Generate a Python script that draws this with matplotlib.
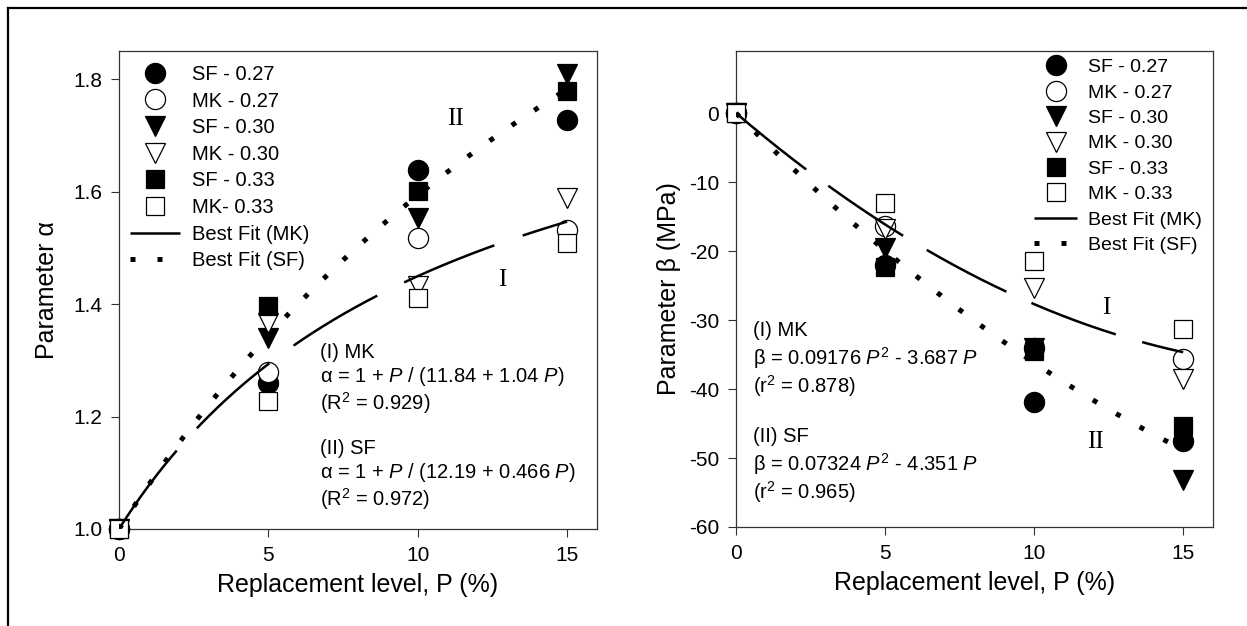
import numpy as np
import matplotlib
matplotlib.use("Agg")
import matplotlib.pyplot as plt
from matplotlib.lines import Line2D

plt.rcParams['font.family'] = ['Liberation Sans', 'DejaVu Sans']
plt.rcParams['mathtext.fontset'] = 'custom'
plt.rcParams['mathtext.rm'] = 'Liberation Sans'
plt.rcParams['mathtext.it'] = 'Liberation Sans:italic'
plt.rcParams['axes.unicode_minus'] = False

# replacement level (%)
P = [0, 5, 10, 15]

# parameter alpha
alpha = {
    'SF - 0.27': [1.0, 1.259, 1.638, 1.728],
    'MK - 0.27': [1.0, 1.279, 1.518, 1.532],
    'SF - 0.30': [1.0, 1.340, 1.553, 1.809],
    'MK - 0.30': [1.0, 1.367, 1.433, 1.589],
    'SF - 0.33': [1.0, 1.397, 1.601, 1.778],
    'MK- 0.33': [1.0, 1.227, 1.411, 1.508],
}
# parameter beta (MPa)
beta = {
    'SF - 0.27': [0.0, -22.0, -41.9, -47.5],
    'MK - 0.27': [0.0, -16.4, -34.0, -35.6],
    'SF - 0.30': [0.0, -19.6, -34.0, -53.2],
    'MK - 0.30': [0.0, -16.8, -25.4, -38.5],
    'SF - 0.33': [0.0, -22.3, -34.5, -45.4],
    'MK - 0.33': [0.0, -13.0, -21.4, -31.3],
}

# fit coefficients printed on the chart
alpha_mk = (11.84, 1.04)
alpha_sf = (12.19, 0.466)
beta_mk = (0.09176, -3.687)
beta_sf = (0.07324, -4.351)

# marker styles in legend order: (marker, filled, size)
styles = [('o', True, 14.5), ('o', False, 14.5), ('v', True, 14),
          ('v', False, 14), ('s', True, 12.5), ('s', False, 12.5)]

pf = np.linspace(0, 15, 300)
sf_kw = dict(color='black', lw=3.6, dashes=(1.0, 4.4), dash_capstyle='butt',
             zorder=5)


def mk_kw(dash):
    return dict(color='black', lw=1.8, dashes=dash, solid_capstyle='butt',
                dash_capstyle='butt', zorder=5)


fig = plt.figure(figsize=(12.47, 6.26), dpi=100)
ax1 = fig.add_axes([119/1247, 1-529/626, 478/1247, 478/626])
ax2 = fig.add_axes([736/1247, 1-527/626, 477/1247, 476/626])

# outer frame (top and left edges)
fig.add_artist(Line2D([8/1247, 8/1247], [0, 1-8/626], color='black', lw=1.6,
                      transform=fig.transFigure))
fig.add_artist(Line2D([8/1247, 1], [1-8/626, 1-8/626], color='black', lw=1.6,
                      transform=fig.transFigure))


def draw(ax, data):
    handles = []
    for (name, vals), (m, filled, ms) in zip(data.items(), styles):
        h, = ax.plot(P, vals, linestyle='none', marker=m, ms=ms,
                     mfc='black' if filled else 'white', mec='black',
                     mew=0.9, label=name, zorder=3, clip_on=False)
        handles.append(h)
    return handles


h1 = draw(ax1, alpha)
l1, = ax1.plot(pf, 1 + pf / (alpha_mk[0] + alpha_mk[1] * pf), label='Best Fit (MK)',
               **mk_kw((39, 12)))
l2, = ax1.plot(pf, 1 + pf / (alpha_sf[0] + alpha_sf[1] * pf), label='Best Fit (SF)', **sf_kw)

h2 = draw(ax2, beta)
l3, = ax2.plot(pf, beta_mk[0] * pf**2 + beta_mk[1] * pf, label='Best Fit (MK)',
               **mk_kw((36, 11)))
l4, = ax2.plot(pf, beta_sf[0] * pf**2 + beta_sf[1] * pf, label='Best Fit (SF)', **sf_kw)

for ax in (ax1, ax2):
    ax.set_xlim(0, 16)
    ax.set_xticks([0, 5, 10, 15])
    ax.tick_params(labelsize=15, length=6, width=0.8, color='#333333', pad=6)
    for s in ax.spines.values():
        s.set_linewidth(0.9)
        s.set_color('#333333')
    ax.set_xlabel('Replacement level, P (%)', fontsize=18, labelpad=6)

ax1.set_ylim(1.0, 1.85)
ax1.set_yticks([1.0, 1.2, 1.4, 1.6, 1.8])
ax1.set_ylabel('Parameter α', fontsize=18, labelpad=10)
ax2.set_ylim(-60, 9)
ax2.set_yticks([-60, -50, -40, -30, -20, -10, 0])
ax2.set_ylabel('Parameter β (MPa)', fontsize=18, labelpad=6)

ax1.legend(handles=h1 + [l1, l2], loc='upper left', bbox_to_anchor=(0.023, 0.971),
           frameon=False, fontsize=14.5, handlelength=2.5, handletextpad=0.6,
           labelspacing=0.38, borderpad=0, borderaxespad=0)
ax2.legend(handles=h2 + [l3, l4], loc='upper left', bbox_to_anchor=(0.625, 0.984),
           frameon=False, fontsize=14, handlelength=2.2, handletextpad=0.55,
           labelspacing=0.40, borderpad=0, borderaxespad=0)

txt1 = ['(I) MK', 'α = 1 + $P$ / (11.84 + 1.04 $P$)', '(R$^2$ = 0.929)',
        '(II) SF', 'α = 1 + $P$ / (12.19 + 0.466 $P$)', '(R$^2$ = 0.972)']
y1 = [352, 377, 403, 449, 473, 499]
for s, yy in zip(txt1, y1):
    fig.text(320/1247, 1 - yy/626, s, fontsize=14.5, va='center', ha='left')
txt2 = ['(I) MK', 'β = 0.09176 $P^2$ - 3.687 $P$', '(r$^2$ = 0.878)',
        '(II) SF', 'β = 0.07324 $P^2$ - 4.351 $P$', '(r$^2$ = 0.965)']
y2 = [331, 358, 386, 437, 464, 492]
for s, yy in zip(txt2, y2):
    fig.text(753/1247, 1 - yy/626, s, fontsize=14.5, va='center', ha='left')

rk = dict(fontsize=18, family='Liberation Serif', va='center', ha='center')
fig.text(455/1247, 1 - 119/626, 'II', **rk)
fig.text(502/1247, 1 - 280/626, 'I', **rk)
fig.text(1106/1247, 1 - 308/626, 'I', **rk)
fig.text(1095/1247, 1 - 442/626, 'II', **rk)

fig.savefig('out.png', dpi=100)
